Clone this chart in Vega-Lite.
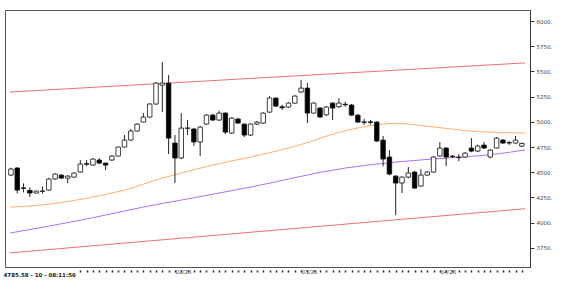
{
  "$schema": "https://vega.github.io/schema/vega-lite/v6.json",
  "width": 525,
  "height": 257,
  "autosize": {"type": "none"},
  "padding": {"left": 5, "top": 10, "right": 36, "bottom": 16},
  "background": "white",
  "config": {
    "view": {"stroke": "#555", "strokeWidth": 1},
    "axis": {"labelFont": "DejaVu Sans", "titleFont": "DejaVu Sans"}
  },
  "datasets": {
    "candles": [
      {"i":0,"o":4472,"h":4545,"l":4462,"c":4532},
      {"i":1,"o":4542,"h":4552,"l":4290,"c":4323},
      {"i":2,"o":4345,"h":4390,"l":4300,"c":4340},
      {"i":3,"o":4320,"h":4350,"l":4254,"c":4294},
      {"i":4,"o":4294,"h":4320,"l":4290,"c":4313},
      {"i":5,"o":4310,"h":4360,"l":4290,"c":4315},
      {"i":6,"o":4323,"h":4445,"l":4315,"c":4433},
      {"i":7,"o":4433,"h":4490,"l":4425,"c":4482},
      {"i":8,"o":4472,"h":4480,"l":4435,"c":4442},
      {"i":9,"o":4442,"h":4470,"l":4393,"c":4462},
      {"i":10,"o":4452,"h":4500,"l":4445,"c":4492},
      {"i":11,"o":4502,"h":4621,"l":4495,"c":4581},
      {"i":12,"o":4585,"h":4621,"l":4560,"c":4580},
      {"i":13,"o":4571,"h":4640,"l":4565,"c":4631},
      {"i":14,"o":4621,"h":4640,"l":4580,"c":4591},
      {"i":15,"o":4591,"h":4595,"l":4522,"c":4571},
      {"i":16,"o":4621,"h":4670,"l":4615,"c":4661},
      {"i":17,"o":4661,"h":4755,"l":4655,"c":4750},
      {"i":18,"o":4750,"h":4869,"l":4745,"c":4819},
      {"i":19,"o":4819,"h":4929,"l":4815,"c":4909},
      {"i":20,"o":4909,"h":4985,"l":4905,"c":4978},
      {"i":21,"o":4998,"h":5087,"l":4995,"c":5048},
      {"i":22,"o":5048,"h":5185,"l":5040,"c":5177},
      {"i":23,"o":5177,"h":5395,"l":5170,"c":5385},
      {"i":24,"o":5365,"h":5593,"l":5097,"c":5385},
      {"i":25,"o":5385,"h":5464,"l":4681,"c":4839},
      {"i":26,"o":4790,"h":4869,"l":4393,"c":4641},
      {"i":27,"o":4641,"h":5087,"l":4630,"c":4938},
      {"i":28,"o":4935,"h":5018,"l":4869,"c":4940},
      {"i":29,"o":4929,"h":4940,"l":4760,"c":4800},
      {"i":30,"o":4800,"h":4960,"l":4661,"c":4948},
      {"i":31,"o":4978,"h":5077,"l":4970,"c":5067},
      {"i":32,"o":5067,"h":5080,"l":5010,"c":5018},
      {"i":33,"o":5018,"h":5110,"l":5010,"c":5087},
      {"i":34,"o":5087,"h":5095,"l":4880,"c":4899},
      {"i":35,"o":4889,"h":5045,"l":4880,"c":5038},
      {"i":36,"o":5028,"h":5040,"l":4980,"c":4988},
      {"i":37,"o":4978,"h":4985,"l":4850,"c":4869},
      {"i":38,"o":4869,"h":4985,"l":4860,"c":4978},
      {"i":39,"o":4978,"h":5010,"l":4970,"c":4998},
      {"i":40,"o":4988,"h":5095,"l":4980,"c":5087},
      {"i":41,"o":5097,"h":5256,"l":5090,"c":5236},
      {"i":42,"o":5236,"h":5245,"l":5150,"c":5156},
      {"i":43,"o":5150,"h":5170,"l":5120,"c":5140},
      {"i":44,"o":5147,"h":5195,"l":5140,"c":5186},
      {"i":45,"o":5186,"h":5266,"l":5180,"c":5256},
      {"i":46,"o":5296,"h":5415,"l":5290,"c":5335},
      {"i":47,"o":5335,"h":5385,"l":4988,"c":5087},
      {"i":48,"o":5087,"h":5195,"l":5080,"c":5186},
      {"i":49,"o":5137,"h":5147,"l":5040,"c":5048},
      {"i":50,"o":5070,"h":5157,"l":5060,"c":5147},
      {"i":51,"o":5186,"h":5195,"l":5018,"c":5137},
      {"i":52,"o":5150,"h":5236,"l":5140,"c":5186},
      {"i":53,"o":5175,"h":5200,"l":5150,"c":5170},
      {"i":54,"o":5167,"h":5177,"l":5060,"c":5067},
      {"i":55,"o":5067,"h":5077,"l":4990,"c":4998},
      {"i":56,"o":5000,"h":5030,"l":4970,"c":4995},
      {"i":57,"o":5000,"h":5020,"l":4975,"c":4995},
      {"i":58,"o":4998,"h":5005,"l":4800,"c":4810},
      {"i":59,"o":4819,"h":4860,"l":4560,"c":4631},
      {"i":60,"o":4651,"h":4720,"l":4470,"c":4482},
      {"i":61,"o":4462,"h":4470,"l":4075,"c":4393},
      {"i":62,"o":4393,"h":4460,"l":4294,"c":4452},
      {"i":63,"o":4452,"h":4552,"l":4440,"c":4492},
      {"i":64,"o":4502,"h":4510,"l":4335,"c":4343},
      {"i":65,"o":4363,"h":4530,"l":4355,"c":4472},
      {"i":66,"o":4472,"h":4510,"l":4465,"c":4502},
      {"i":67,"o":4502,"h":4660,"l":4495,"c":4651},
      {"i":68,"o":4661,"h":4800,"l":4655,"c":4740},
      {"i":69,"o":4740,"h":4750,"l":4560,"c":4651},
      {"i":70,"o":4660,"h":4670,"l":4640,"c":4655},
      {"i":71,"o":4650,"h":4680,"l":4610,"c":4645},
      {"i":72,"o":4651,"h":4700,"l":4645,"c":4690},
      {"i":73,"o":4740,"h":4839,"l":4700,"c":4710},
      {"i":74,"o":4710,"h":4775,"l":4700,"c":4760},
      {"i":75,"o":4770,"h":4800,"l":4735,"c":4740},
      {"i":76,"o":4651,"h":4730,"l":4640,"c":4720},
      {"i":77,"o":4740,"h":4850,"l":4735,"c":4839},
      {"i":78,"o":4819,"h":4830,"l":4780,"c":4790},
      {"i":79,"o":4795,"h":4810,"l":4770,"c":4790},
      {"i":80,"o":4790,"h":4860,"l":4785,"c":4819},
      {"i":81,"o":4760,"h":4795,"l":4750,"c":4786}
    ],
    "lines": [
      {"s":"upper","i":-0.15,"v":5296},
      {"s":"upper","i":81.5,"v":5585},
      {"s":"lower","i":-0.15,"v":3700},
      {"s":"lower","i":81.5,"v":4138},
      {"s":"ma1","i":-0.15,"v":4155},
      {"s":"ma1","i":4,"v":4170},
      {"s":"ma1","i":8,"v":4200},
      {"s":"ma1","i":13,"v":4255},
      {"s":"ma1","i":18,"v":4323},
      {"s":"ma1","i":24,"v":4442},
      {"s":"ma1","i":27,"v":4492},
      {"s":"ma1","i":32,"v":4572},
      {"s":"ma1","i":38,"v":4651},
      {"s":"ma1","i":46,"v":4775},
      {"s":"ma1","i":52,"v":4895},
      {"s":"ma1","i":57,"v":4962},
      {"s":"ma1","i":61,"v":4985},
      {"s":"ma1","i":67,"v":4950},
      {"s":"ma1","i":74,"v":4903},
      {"s":"ma1","i":81.5,"v":4889},
      {"s":"ma2","i":-0.15,"v":3897},
      {"s":"ma2","i":12,"v":4036},
      {"s":"ma2","i":21,"v":4155},
      {"s":"ma2","i":27,"v":4224},
      {"s":"ma2","i":38,"v":4353},
      {"s":"ma2","i":53,"v":4542},
      {"s":"ma2","i":61,"v":4601},
      {"s":"ma2","i":69,"v":4641},
      {"s":"ma2","i":77,"v":4681},
      {"s":"ma2","i":81.5,"v":4722}
    ]
  },
  "layer": [
    {
      "data": {"name": "lines"},
      "mark": {"type": "line", "strokeWidth": 1, "clip": true, "interpolate": "monotone"},
      "encoding": {
        "x": {"field": "i", "type": "quantitative",
          "scale": {"domain": [-0.15, 81.5], "nice": false, "zero": false},
          "axis": {
            "orient": "bottom",
            "values": [11,12,13,14,15,16,17,18,19,20,21,22,23,24,25,26,27,28,29,30,31,32,33,34,35,36,37,38,39,40,41,42,43,44,45,46,47,48,49,50,51,52,53,54,55,56,57,58,59,60,61,62,63,64,65,66,67,68,69,70,71,72,73,74,75,76,77,78,79,80,81],
            "tickCount": 200,
            "labelExpr": "datum.value == 26 ? '02/26' : (datum.value == 46 ? '03/26' : (datum.value == 68 ? '04/26' : ''))",
            "labelAlign": "left",
            "labelBaseline": "top",
            "labelPadding": -3,
            "labelDx": 1,
            "labelFontSize": 5.5,
            "labelColor": "#444",
            "labelOverlap": false,
            "labelFlush": false,
            "labelBound": false,
            "tickSize": 5,
            "tickDash": [0, 3, 2, 5],
            "tickWidth": 1.5,
            "tickColor": "#222",
            "domain": false,
            "grid": false,
            "title": "4785.58 - 10 - 08:11:56",
            "titleFontSize": 5.5,
            "titleFontWeight": "bold",
            "titleColor": "#222",
            "titleAnchor": "start",
            "titleAlign": "left",
            "titleBaseline": "middle",
            "titleX": -2,
            "titleY": 7
          }
        },
        "y": {"field": "v", "type": "quantitative",
          "scale": {"domain": [3560, 6110], "nice": false, "zero": false},
          "axis": {
            "orient": "right",
            "values": [3750,4000,4250,4500,4750,5000,5250,5500,5750,6000],
            "tickCount": 50,
            "labelExpr": "datum.value + '.'",
            "labelFontSize": 5.5,
            "labelColor": "#444",
            "labelPadding": 2,
            "labelOverlap": false,
            "tickSize": 4,
            "tickColor": "#333",
            "domainColor": "#333",
            "grid": false,
            "title": null
          }
        },
        "detail": {"field": "s"},
        "color": {"field": "s", "type": "nominal",
          "scale": {"domain": ["upper","lower","ma1","ma2"], "range": ["#f07070","#f07070","#ffb070","#b070f0"]},
          "legend": null}
      }
    },
    {
      "data": {"name": "candles"},
      "mark": {"type": "rule", "strokeWidth": 1, "color": "#222"},
      "encoding": {
        "x": {"field": "i", "type": "quantitative"},
        "y": {"field": "l", "type": "quantitative"},
        "y2": {"field": "h"}
      }
    },
    {
      "data": {"name": "candles"},
      "mark": {"type": "bar", "size": 4.5, "stroke": "#111", "strokeWidth": 0.8},
      "encoding": {
        "x": {"field": "i", "type": "quantitative"},
        "y": {"field": "o", "type": "quantitative"},
        "y2": {"field": "c"},
        "fill": {"condition": {"test": "datum.c < datum.o", "value": "#000"}, "value": "#fff"}
      }
    }
  ]
}
